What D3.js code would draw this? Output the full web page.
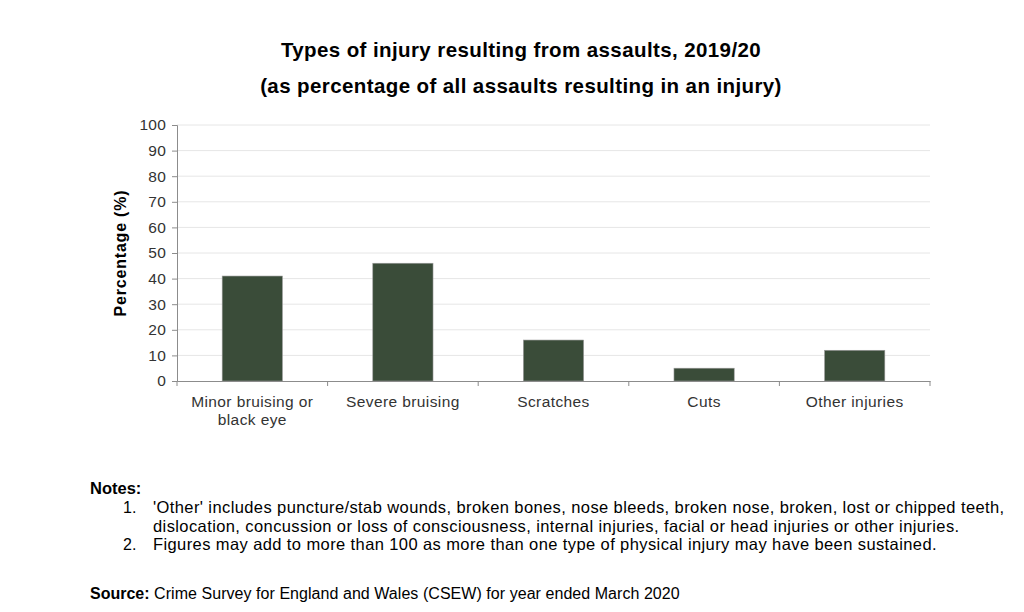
<!DOCTYPE html>
<html>
<head>
<meta charset="utf-8">
<script src="https://cdn.jsdelivr.net/npm/d3@7"></script>
<style>
body { margin: 0; background: #fff; }
text { font-family: "Liberation Sans", Arial, sans-serif; }
</style>
</head>
<body>
<svg width="1024" height="612"></svg>
<script>
var categories = [["Minor bruising or", "black eye"], ["Severe bruising"], ["Scratches"], ["Cuts"], ["Other injuries"]];
var values = [41, 46, 16, 5, 12];
var yTicks = [0, 10, 20, 30, 40, 50, 60, 70, 80, 90, 100];
var titleLines = ["Types of injury resulting from assaults, 2019/20", "(as percentage of all assaults resulting in an injury)"];
var notes = [
    ["1.", "'Other' includes puncture/stab wounds, broken bones, nose bleeds, broken nose, broken, lost or chipped teeth,"],
    ["", "dislocation, concussion or loss of consciousness, internal injuries, facial or head injuries or other injuries."],
    ["2.", "Figures may add to more than 100 as more than one type of physical injury may have been sustained."]
];

var svg = d3.select("svg");

var x = d3.scaleBand().domain(d3.range(categories.length)).range([177, 930]);
var y = d3.scaleLinear().domain([0, 100]).range([381, 125]);

// title
svg.selectAll(".title").data(titleLines).enter().append("text")
    .attr("x", 521).attr("y", function(d, i) { return 57 + i * 36; })
    .attr("text-anchor", "middle")
    .style("font-size", "20.5px").style("font-weight", "bold").style("fill", "#000")
    .style("letter-spacing", "0.4px")
    .text(function(d) { return d; });

// gridlines
svg.append("g").selectAll("line").data(yTicks.slice(1)).enter().append("line")
    .attr("x1", 177).attr("x2", 930)
    .attr("y1", function(d) { return y(d); }).attr("y2", function(d) { return y(d); })
    .style("stroke", "#e6e6e6").style("stroke-width", 1);

// bars
var bw = x.bandwidth() * 0.4;
svg.append("g").selectAll("rect").data(values).enter().append("rect")
    .attr("x", function(d, i) { return x(i) + x.bandwidth() / 2 - bw / 2; })
    .attr("y", function(d) { return y(d); })
    .attr("width", bw)
    .attr("height", function(d) { return y(0) - y(d); })
    .style("fill", "#3a4c39").style("stroke", "#9a9a9a").style("stroke-width", 0.6);

// y axis
var yAxis = svg.append("g").attr("transform", "translate(177,0)")
    .call(d3.axisLeft(y).tickValues(yTicks).tickSize(5).tickPadding(6));
yAxis.select(".domain").style("stroke", "#8c8c8c");
yAxis.selectAll(".tick line").style("stroke", "#8c8c8c");
yAxis.selectAll(".tick text").style("font-size", "15.5px").style("fill", "#333")
    .style("letter-spacing", "0.2px")
    .style("font-family", "'Liberation Sans', Arial, sans-serif");

// x axis
var xAxis = svg.append("g").attr("transform", "translate(0,381)")
    .call(d3.axisBottom(x).tickSize(0).tickFormat(""));
xAxis.select(".domain").style("stroke", "#8c8c8c");
xAxis.selectAll(".tick").remove();
svg.append("g").selectAll("line").data(d3.range(categories.length + 1)).enter().append("line")
    .attr("x1", function(d) { return 177 + d * x.step(); })
    .attr("x2", function(d) { return 177 + d * x.step(); })
    .attr("y1", 381).attr("y2", 386)
    .style("stroke", "#8c8c8c");

// category labels
svg.append("g").selectAll("text").data(categories).enter().append("text")
    .attr("x", function(d, i) { return x(i) + x.bandwidth() / 2; })
    .attr("y", 407)
    .attr("text-anchor", "middle")
    .style("font-size", "15.5px").style("fill", "#333").style("letter-spacing", "0.4px")
    .each(function(d) {
        var t = d3.select(this);
        d.forEach(function(line, j) {
            t.append("tspan").attr("x", t.attr("x")).attr("dy", j === 0 ? 0 : 18).text(line);
        });
    });

// y label
svg.append("text")
    .attr("transform", "translate(126,253) rotate(-90)")
    .attr("text-anchor", "middle")
    .style("font-size", "16px").style("font-weight", "bold").style("fill", "#000")
    .style("letter-spacing", "0.8px")
    .text("Percentage (%)");

// notes
svg.append("text").attr("x", 90).attr("y", 494)
    .style("font-size", "16.5px").style("font-weight", "bold").text("Notes:");
var ng = svg.append("g").selectAll("g").data(notes).enter().append("g");
ng.append("text").attr("x", 123).attr("y", function(d, i) { return 513 + i * 18.5; })
    .style("font-size", "16px").text(function(d) { return d[0]; });
ng.append("text").attr("x", 153).attr("y", function(d, i) { return 513 + i * 18.5; })
    .style("font-size", "16.5px").style("letter-spacing", "0.4px").text(function(d) { return d[1]; });

// source
var src = svg.append("text").attr("x", 90).attr("y", 599).style("font-size", "16px");
src.append("tspan").style("font-weight", "bold").text("Source:");
src.append("tspan").style("letter-spacing", "0.05px").text(" Crime Survey for England and Wales (CSEW) for year ended March 2020");
</script>
</body>
</html>
